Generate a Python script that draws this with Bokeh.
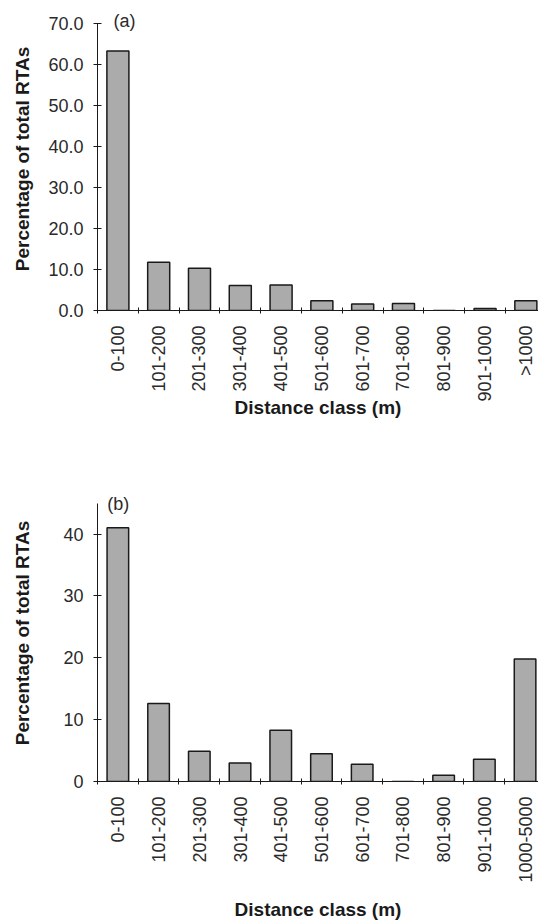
import math
from bokeh.plotting import figure
from bokeh.layouts import column
from bokeh.models import (ColumnDataSource, FixedTicker, Label, Range1d,
                          NumeralTickFormatter)
from bokeh.embed import file_html
from bokeh.resources import INLINE

# Distance classes (m) and share of total RTAs (%)
classes_a = ["0-100", "101-200", "201-300", "301-400", "401-500", "501-600",
             "601-700", "701-800", "801-900", "901-1000", ">1000"]
pct_a = [63.4, 11.8, 10.3, 6.1, 6.2, 2.4, 1.6, 1.7, 0.0, 0.5, 2.4]

classes_b = ["0-100", "101-200", "201-300", "301-400", "401-500", "501-600",
             "601-700", "701-800", "801-900", "901-1000", "1000-5000"]
pct_b = [41.0, 12.6, 4.9, 3.0, 8.3, 4.5, 2.8, 0.0, 1.0, 3.6, 19.8]

yticks_a = [0, 10, 20, 30, 40, 50, 60, 70]
yticks_b = [0, 10, 20, 30, 40]

FONT = "Liberation Sans"
BAR_FILL = "#ababab"
INK = "#1a1a1a"


def panel(classes, pct, yticks, axis_top, view_top, tag, x_end, bar_w,
          height, left, top, bottom, yfmt, tag_xy, xlab_off, ylab_off):
    pos = list(range(len(classes)))
    src = ColumnDataSource(dict(x=pos, top=pct))
    p = figure(width=538, height=height, output_backend="svg",
               toolbar_location=None,
               x_range=Range1d(-0.5, x_end), y_range=Range1d(0, view_top),
               min_border_left=left, min_border_right=0,
               min_border_top=top, min_border_bottom=bottom)
    p.vbar(x="x", top="top", width=bar_w, source=src,
           fill_color=BAR_FILL, line_color=INK, line_width=1.5)

    p.outline_line_color = None
    p.xgrid.visible = False
    p.ygrid.visible = False
    p.background_fill_color = "white"
    p.border_fill_color = "white"

    # x axis: labels at class centres, tick marks on class boundaries
    xa = p.xaxis[0]
    xa.ticker = FixedTicker(ticks=pos,
                            minor_ticks=[i - 0.5 for i in pos])
    xa.major_label_overrides = {i: c for i, c in enumerate(classes)}
    xa.major_label_orientation = math.pi / 2
    xa.major_tick_line_color = None
    xa.minor_tick_in = 3
    xa.minor_tick_out = 3
    xa.minor_tick_line_color = INK
    xa.axis_line_color = INK
    xa.major_label_text_font = FONT
    xa.major_label_text_font_size = "18px"
    xa.major_label_text_color = "#2a2a2a"
    xa.major_label_standoff = 9
    xa.axis_label = "Distance class (m)"
    xa.axis_label_text_font = FONT
    xa.axis_label_text_font_size = "19px"
    xa.axis_label_text_font_style = "bold"
    xa.axis_label_text_color = INK
    xa.axis_label_standoff = xlab_off

    ya = p.yaxis[0]
    ya.bounds = (0, axis_top)
    ya.ticker = FixedTicker(ticks=yticks)
    ya.formatter = NumeralTickFormatter(format=yfmt)
    ya.minor_tick_line_color = None
    ya.major_tick_in = 4
    ya.major_tick_out = 4
    ya.major_tick_line_color = INK
    ya.axis_line_color = INK
    ya.major_label_text_font = FONT
    ya.major_label_text_font_size = "18px"
    ya.major_label_text_color = "#2a2a2a"
    ya.major_label_standoff = 10
    ya.axis_label = "Percentage of total RTAs"
    ya.axis_label_text_font = FONT
    ya.axis_label_text_font_size = "19px"
    ya.axis_label_text_font_style = "bold"
    ya.axis_label_text_color = INK
    ya.axis_label_standoff = ylab_off

    p.add_layout(Label(x=tag_xy[0], y=tag_xy[1], text=tag,
                       text_font=FONT, text_font_size="18px",
                       text_color="#2a2a2a", text_baseline="middle",
                       text_align="left"))
    return p


pa = panel(classes_a, pct_a, yticks_a, 70, 74, "(a)", 10.31, 0.54, 460,
           97, 7, 150, "0.0", (-0.11, 70.8), -8, 12)
pb = panel(classes_b, pct_b, yticks_b, 45, 48, "(b)", 10.33, 0.53, 462,
           82, 24, 138, "0", (-0.26, 44.8), 13, 27)

layout = column(pa, pb, spacing=0)

open("out.html", "w").write(file_html(layout, INLINE))
